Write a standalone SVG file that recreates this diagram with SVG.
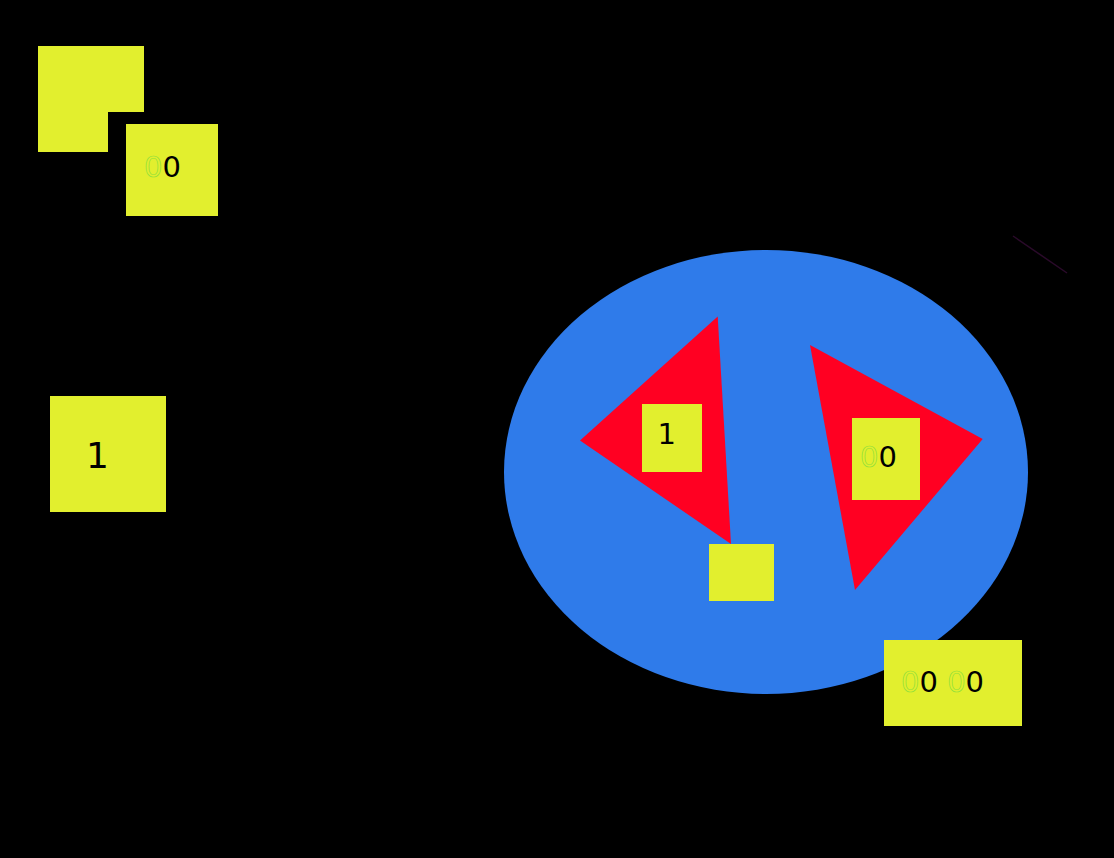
<svg xmlns="http://www.w3.org/2000/svg" width="1114" height="858" viewBox="0 0 1114 858">
<style>
.y{fill:#e2ef2e}
.r{fill:#ff0022}
.t{font-family:"DejaVu Sans",sans-serif;font-size:29px;fill:#000}
.g{fill:#e2ef2e;stroke:#8fe03c;stroke-width:0.7}
</style>
<rect width="1114" height="858" fill="#000"/>
<g id="connectors">
<line x1="1013" y1="236" x2="1067" y2="273" stroke="#2a0a2a" stroke-width="1.5"/>
<line x1="685" y1="519" x2="688" y2="522" stroke="#000" stroke-width="1.5"/>
</g>
<g id="n1"><polygon class="y" points="38,46 144,46 144,112 108,112 108,152 38,152"/></g>
<g id="n2"><rect class="y" x="126" y="124" width="92" height="92"/><text class="t" x="144" y="177"><tspan class="g">0</tspan>0</text></g>
<g id="n3"><rect class="y" x="50" y="396" width="116" height="116"/><text class="t" x="86" y="468" style="font-size:36px">1</text></g>
<g id="n4"><ellipse cx="766" cy="472" rx="262" ry="222" fill="#2f7bea"/></g>
<g id="n5"><polygon class="r" points="580,440.5 717.7,316.5 731,544"/></g>
<g id="n6"><rect class="y" x="642" y="404" width="60" height="68"/><text class="t" x="657.5" y="444">1</text></g>
<g id="n7"><polygon class="r" points="810,345 982.7,439 855,590"/></g>
<g id="n8"><rect class="y" x="852" y="418" width="68" height="82"/><text class="t" x="860" y="467"><tspan class="g">0</tspan>0</text></g>
<g id="n9"><rect class="y" x="709" y="544" width="65" height="57"/></g>
<g id="n10"><rect class="y" x="884" y="640" width="138" height="86"/><text class="t" x="901" y="692"><tspan class="g">0</tspan>0 <tspan class="g">0</tspan>0</text></g>
</svg>
